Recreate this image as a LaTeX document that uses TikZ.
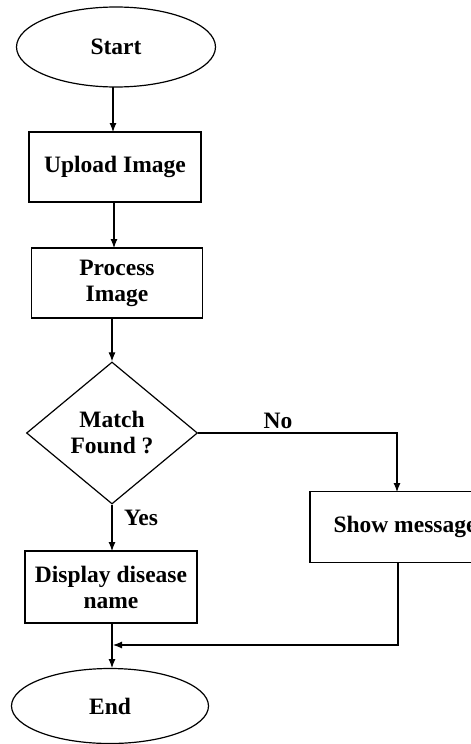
\documentclass[tikz,border=0pt]{standalone}
\usepackage{fontspec}
\setmainfont{Liberation Serif}
\usetikzlibrary{shapes.geometric,arrows.meta}
\begin{document}
\begin{tikzpicture}[x=1pt,y=-1pt,
  every node/.style={font=\fontsize{23.5}{26}\selectfont\bfseries},
  shp/.style={draw,line width=1.2pt,inner sep=0pt,align=center},
  term/.style={shp,ellipse},
  proc/.style={shp,rectangle},
  dec/.style={shp,diamond},
  arr/.style={line width=1.1pt,-{Latex[length=9pt,width=7pt]}},
  lin/.style={line width=1.1pt},
  lbl/.style={inner sep=0pt}]
\clip (0,0) rectangle (471,744);
\useasboundingbox (0,0) rectangle (471,744);
\node[term,minimum width=199pt,minimum height=80pt] (start) at (116,47) {Start};
\node[proc,minimum width=172pt,minimum height=70pt] (upload) at (115,167) {Upload Image};
\node[proc,minimum width=171pt,minimum height=70pt] (process) at (117,283) {Process\\Image};
\node[dec,minimum width=171pt,minimum height=142pt] (match) at (112,433) {Match\\Found ?};
\node[proc,minimum width=190pt,minimum height=71pt] (show) at (405,527) {Show message};
\node[proc,minimum width=172pt,minimum height=72pt] (display) at (111,587) {Display disease\\name};
\node[term,minimum width=197pt,minimum height=75pt] (end) at (110,706) {End};
\node[lbl] (no) at (278,421) {No};
\node[lbl] (yes) at (141,518) {Yes};
\coordinate (merge) at (113,645);
\draw[arr] (113,87) -- (113,132);
\draw[arr] (114,202) -- (114,248);
\draw[arr] (112,318) -- (match.north);
\draw[arr] (match.east) -| (397,492);
\draw[arr] (match.south) -- (112,551);
\draw[arr] (112,623) -- (112,668);
\draw[arr] (398,563) |- (merge);
\end{tikzpicture}
\end{document}
